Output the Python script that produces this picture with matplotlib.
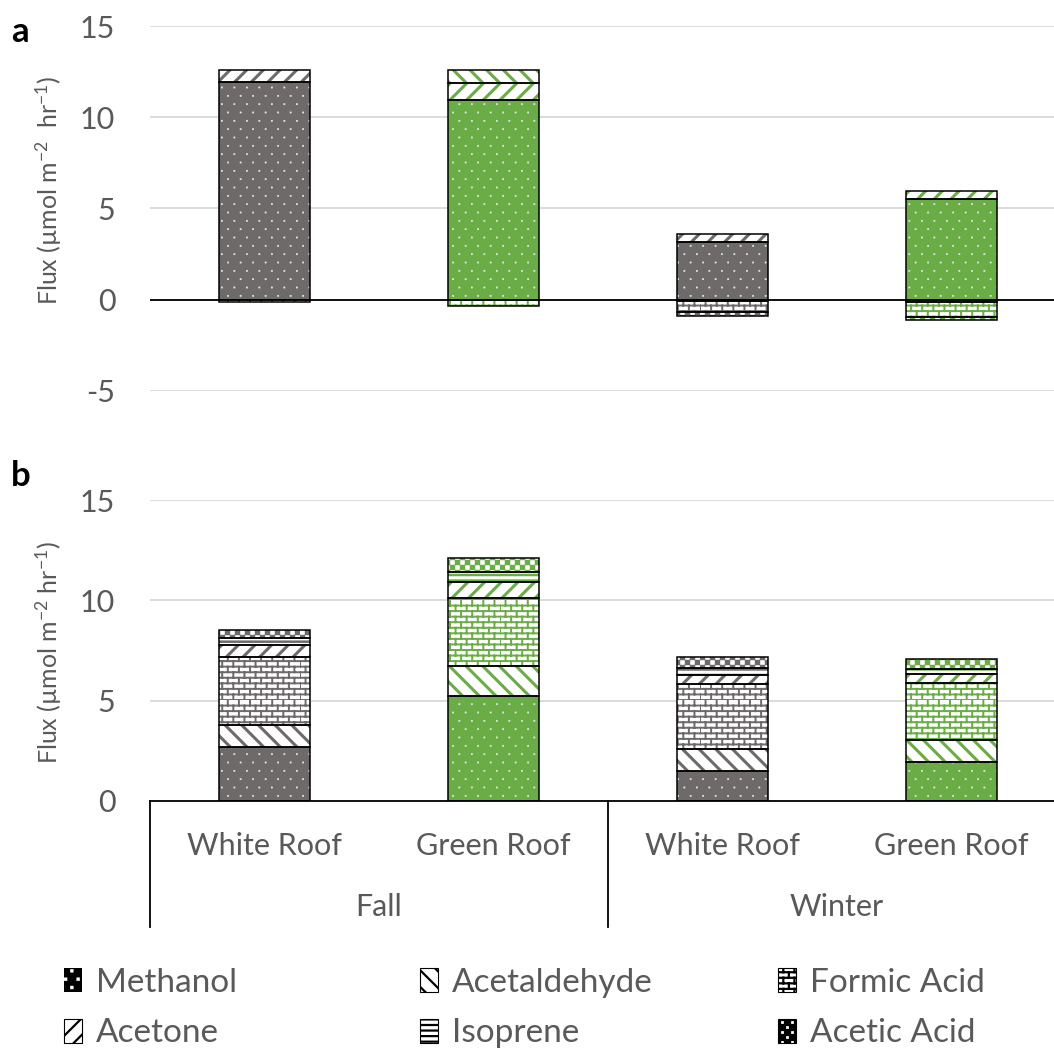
import numpy as np
import matplotlib
matplotlib.use("Agg")
import matplotlib.pyplot as plt
from matplotlib import hatch as mhatch
from matplotlib.path import Path
from matplotlib.patches import Patch
from matplotlib.transforms import blended_transform_factory

# ---------------- data ----------------
categories = ["White Roof", "Green Roof", "White Roof", "Green Roof"]
seasons = ["Fall", "Winter"]
species = ["Methanol", "Acetaldehyde", "Formic Acid", "Acetone", "Isoprene", "Acetic Acid"]

# panel a (stacking order differs slightly)
order_a = ["Methanol", "Acetone", "Acetaldehyde", "Formic Acid", "Isoprene", "Acetic Acid"]
a_methanol = [11.95, 10.95, 3.15, 5.50]
a_acetone = [0.65, 0.90, 0.46, 0.45]
a_acetaldehyde = [0.0, 0.72, -0.08, -0.10]
a_formic = [-0.12, -0.35, -0.60, -0.84]
a_isoprene = [0.0, 0.0, 0.0, 0.0]
a_acetic = [0.0, 0.0, -0.20, -0.18]

# panel b
order_b = ["Methanol", "Acetaldehyde", "Formic Acid", "Acetone", "Isoprene", "Acetic Acid"]
b_methanol = [2.67, 5.25, 1.50, 1.93]
b_acetaldehyde = [1.11, 1.50, 1.10, 1.09]
b_formic = [3.40, 3.38, 3.23, 2.86]
b_acetone = [0.57, 0.80, 0.44, 0.45]
b_isoprene = [0.36, 0.50, 0.36, 0.25]
b_acetic = [0.41, 0.67, 0.54, 0.50]

data_a = {"Methanol": a_methanol, "Acetone": a_acetone, "Acetaldehyde": a_acetaldehyde,
          "Formic Acid": a_formic, "Isoprene": a_isoprene, "Acetic Acid": a_acetic}
data_b = {"Methanol": b_methanol, "Acetaldehyde": b_acetaldehyde, "Formic Acid": b_formic,
          "Acetone": b_acetone, "Isoprene": b_isoprene, "Acetic Acid": b_acetic}

yticks_a = [-5, 0, 5, 10, 15]
yticks_b = [0, 5, 10, 15]

# ---------------- style ----------------
GREY = "#6E6A6A"
GREEN = "#6AAC45"
bar_colors = [GREY, GREEN, GREY, GREEN]
TXT = "#595959"
GRID = "#D9D9D9"

plt.rcParams['font.family'] = ['Lato', 'DejaVu Sans']
plt.rcParams['mathtext.default'] = 'regular'


# custom hatches: bricks ('b'), checkerboard ('k'), sparse dots ('d')
class BrickHatch(mhatch.HatchPatternBase):
    def __init__(self, hatch, density):
        n = hatch.count('b')
        self.rows = 2 * int(round(n * density * 1.5)) if n else 0
        self.cols = self.rows // 2
        self.num_vertices = (2 * self.rows + 2 * self.rows * self.cols) if n else 0

    def set_vertices_and_codes(self, vertices, codes):
        k = 0
        h = 1.0 / self.rows
        for i in range(self.rows):
            y0 = i * h
            vertices[k] = (0, y0)
            vertices[k + 1] = (1, y0)
            codes[k] = Path.MOVETO
            codes[k + 1] = Path.LINETO
            k += 2
            for j in range(self.cols):
                x = (j + 0.5 * (i % 2)) / self.cols
                vertices[k] = (x, y0)
                vertices[k + 1] = (x, y0 + h)
                codes[k] = Path.MOVETO
                codes[k + 1] = Path.LINETO
                k += 2


class CheckerHatch(mhatch.HatchPatternBase):
    def __init__(self, hatch, density):
        n = hatch.count('k')
        self.cells = 2 * int(round(n * density * 1.75)) if n else 0
        self.num_vertices = (self.cells * self.cells // 2) * 5 if n else 0

    def set_vertices_and_codes(self, vertices, codes):
        s = 1.0 / self.cells
        k = 0
        for i in range(self.cells):
            for j in range(self.cells):
                if (i + j) % 2 == 0:
                    x, y = j * s, i * s
                    vertices[k:k + 5] = [(x, y), (x + s, y), (x + s, y + s), (x, y + s), (x, y)]
                    codes[k:k + 5] = [Path.MOVETO, Path.LINETO, Path.LINETO, Path.LINETO, Path.CLOSEPOLY]
                    k += 5


class DotHatch(mhatch.HatchPatternBase):
    def __init__(self, hatch, density):
        n = hatch.count('d')
        self.cols = 8 * n
        self.rows = 12 * n
        self.num_vertices = (self.rows * self.cols) * 5 if n else 0

    def set_vertices_and_codes(self, vertices, codes):
        s = 0.012
        k = 0
        for i in range(self.rows):
            y = (i + 0.5) / self.rows
            for j in range(self.cols):
                x = (j + 0.25 + 0.5 * (i % 2)) / self.cols
                vertices[k:k + 5] = [(x - s / 2, y - s / 2), (x + s / 2, y - s / 2),
                                     (x + s / 2, y + s / 2), (x - s / 2, y + s / 2),
                                     (x - s / 2, y - s / 2)]
                codes[k:k + 5] = [Path.MOVETO, Path.LINETO, Path.LINETO, Path.LINETO, Path.CLOSEPOLY]
                k += 5


mhatch._hatch_types.append(BrickHatch)
mhatch._hatch_types.append(CheckerHatch)
mhatch._hatch_types.append(DotHatch)
mhatch._validate_hatch_pattern = lambda h: None

hatches = {"Methanol": "d", "Acetaldehyde": "\\\\", "Formic Acid": "b",
           "Acetone": "//", "Isoprene": "---", "Acetic Acid": "k"}
hatch_lw = {"Methanol": 0.4, "Acetaldehyde": 2.2, "Formic Acid": 1.4,
            "Acetone": 2.2, "Isoprene": 1.8, "Acetic Acid": 0.3}
plt.rcParams['hatch.linewidth'] = 1.6


def set_hlw(patches, lw):
    for p in patches:
        if hasattr(p, "set_hatch_linewidth"):
            p.set_hatch_linewidth(lw)


def draw_stack(ax, order, data):
    x = np.arange(len(categories))
    width = 0.4
    pos = np.zeros(len(categories))
    neg = np.zeros(len(categories))
    for name in order:
        vals = np.asarray(data[name], dtype=float)
        bottoms = np.where(vals >= 0, pos, neg)
        m = vals != 0
        if m.any():
            xs, vs, bs = x[m], vals[m], bottoms[m]
            cols = [c for c, mm in zip(bar_colors, m) if mm]
            if name == "Methanol":
                fill = cols
                hcol = ["#E8E8E8"] * len(cols)
            else:
                fill = ["white"] * len(cols)
                hcol = cols
            ax.bar(xs, vs, width, bottom=bs, color=fill, linewidth=0, zorder=2)
            hb = ax.bar(xs, vs, width, bottom=bs, color="none", edgecolor=hcol,
                        linewidth=0, hatch=hatches[name], zorder=2.1)
            set_hlw(hb.patches, hatch_lw[name])
            ax.bar(xs, vs, width, bottom=bs, color="none", edgecolor="black",
                   linewidth=1.1, zorder=2.2)
        pos = pos + np.where(vals > 0, vals, 0)
        neg = neg + np.where(vals < 0, vals, 0)
    ax.set_xlim(-0.5, len(categories) - 0.5)


W, H = 1054, 1057
fig = plt.figure(figsize=(W / 100, H / 100), dpi=100)

left = 150 / W
width = 916 / W
# panel a: 15 at y=26, -5 at y=391
ax_a = fig.add_axes([left, 1 - 391 / H, width, (391 - 26) / H])
# panel b: 15 at y=500, 0 at y=801
ax_b = fig.add_axes([left, 1 - 801 / H, width, (801 - 500) / H])

for ax, order, data, ticks in [(ax_a, order_a, data_a, yticks_a), (ax_b, order_b, data_b, yticks_b)]:
    draw_stack(ax, order, data)
    ax.set_ylim(ticks[0], ticks[-1])
    ax.set_yticks(ticks)
    ax.set_yticklabels([str(t) for t in ticks])
    ax.yaxis.grid(True, color=GRID, linewidth=1.3, zorder=0)
    ax.set_axisbelow(True)
    for s in ax.spines.values():
        s.set_visible(False)
    ax.tick_params(axis='y', length=0, pad=25, labelsize=22, labelcolor=TXT)

ax_a.axhline(0, color="black", linewidth=1.3, zorder=1.5)
ax_a.set_xticks([])

# panel b category axis
ax_b.spines['bottom'].set_visible(True)
ax_b.spines['bottom'].set_color("black")
ax_b.spines['bottom'].set_linewidth(1.3)
ax_b.set_xticks(np.arange(len(categories)))
ax_b.set_xticklabels(categories)
ax_b.tick_params(axis='x', length=0, pad=22, labelsize=22, labelcolor=TXT)
trans = blended_transform_factory(ax_b.transData, ax_b.transAxes)
n_per = len(categories) // len(seasons)
for gi, season in enumerate(seasons):
    cx = gi * n_per + (n_per - 1) / 2
    ax_b.text(cx, -0.352, season, transform=trans, ha="center", va="center",
              fontsize=22, color=TXT)
for b in range(len(seasons) + 1):
    xb = b * n_per - 0.5
    ax_b.plot([xb, xb], [0, -0.418], transform=trans, color="black",
              linewidth=1.3, clip_on=False)

# y labels and panel letters
ylab_a = "Flux (\u00b5mol m$^{-2}$  hr$^{-1}$)"
ylab_b = "Flux (\u00b5mol m$^{-2}$ hr$^{-1}$)"
fig.text(49 / W, 1 - 190 / H, ylab_a, rotation=90, ha="center", va="center",
         fontsize=18, color=TXT)
fig.text(49 / W, 1 - 653 / H, ylab_b, rotation=90, ha="center", va="center",
         fontsize=18, color=TXT)
fig.text(11 / W, 1 - 32 / H, "a", fontsize=25, fontweight="bold", ha="left", va="center")
fig.text(11 / W, 1 - 476 / H, "b", fontsize=25, fontweight="bold", ha="left", va="center")

# legend (black pattern swatches)
def handle(name):
    if name == "Methanol":
        p = Patch(facecolor="black", edgecolor="white", linewidth=0, hatch=hatches[name])
    else:
        p = Patch(facecolor="white", edgecolor="black", linewidth=0.8, hatch=hatches[name])
    return p

columns = [["Methanol", "Acetone"], ["Acetaldehyde", "Isoprene"], ["Formic Acid", "Acetic Acid"]]
col_x = [64, 420, 778]
for xs, names in zip(col_x, columns):
    leg = fig.legend([handle(n) for n in names], names, loc="center left",
                     bbox_to_anchor=(xs / W, 1 - 1008 / H), frameon=False,
                     fontsize=24, labelcolor=TXT, handlelength=0.55, handleheight=0.72,
                     handletextpad=0.4, labelspacing=0.62, borderaxespad=0, borderpad=0)

fig.savefig("out.png", dpi=100)
